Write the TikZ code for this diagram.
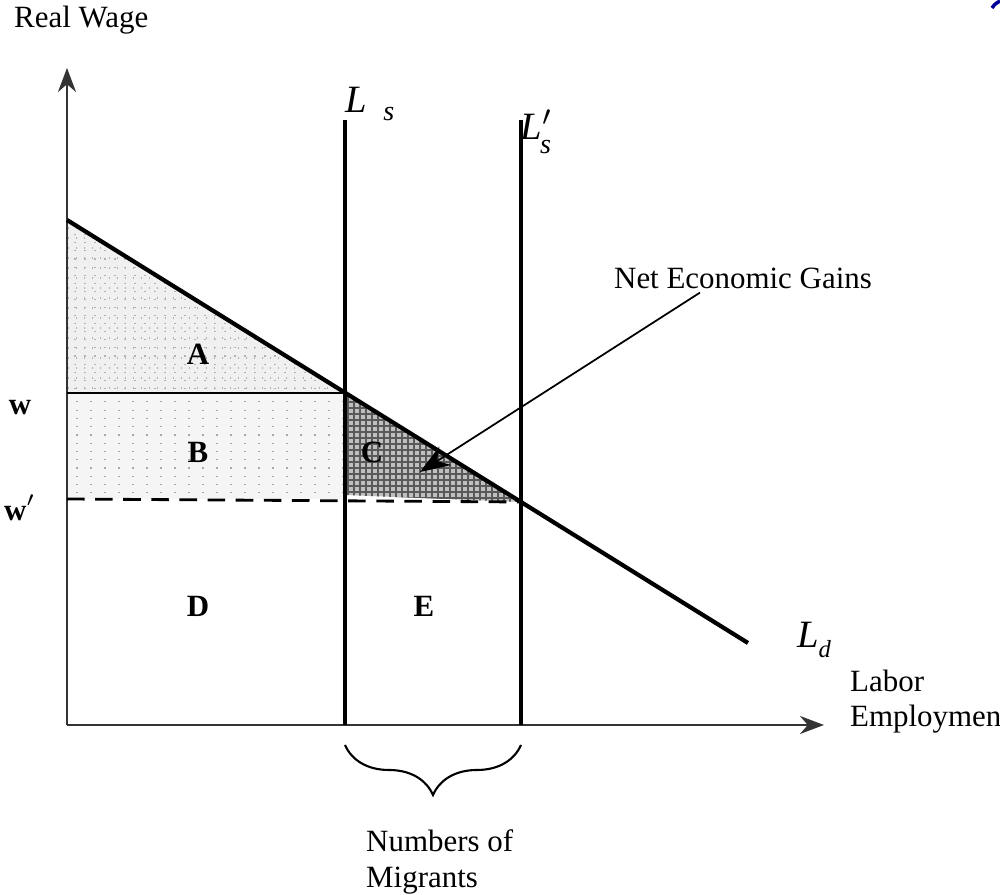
\documentclass[tikz,border=0pt]{standalone}
\usepackage{fontspec}
\setmainfont{Liberation Serif}
\usetikzlibrary{arrows.meta,positioning,decorations.pathreplacing}

\begin{document}
\begin{tikzpicture}[x=0.1mm,y=-0.1mm,
  font=\fontsize{8.8}{10}\selectfont,
  lbl/.style={inner sep=1pt},
  area/.style={inner sep=1pt,font=\fontsize{8.8}{10}\selectfont\bfseries},
  curve/.style={line width=1.2pt},
  supply/.style={line width=0.9pt},
  axis/.style={line width=0.7pt,black!80},
  >={Stealth[length=2.4mm,width=1.8mm]}]
  \useasboundingbox (0,0) rectangle (1000,895);
  % points
  \coordinate (O) at (67,725);
  \coordinate (ytop) at (67,68);
  \coordinate (xend) at (824,725);
  \coordinate (d0) at (67,220);
  \coordinate (d1) at (748,643);
  \coordinate (e1) at (345,393);
  \coordinate (e2) at (521,502);
  \coordinate (w1) at (67,393);
  \coordinate (w2) at (67,499);
  \coordinate (c3) at (345,495);
  % surplus A
  \begin{scope}
    \clip (d0) -- (e1) -- (w1) -- cycle;
    \fill[gray!12] (60,210) rectangle (350,400);
    \foreach \x in {75,85,...,345} \draw[gray!60,dotted,line width=0.3pt] (\x,210) -- (\x,400);
    \foreach \y in {228,238,...,393} \draw[gray!60,dotted,line width=0.3pt] (60,\y) -- (350,\y);
  \end{scope}
  % transfer B
  \begin{scope}
    \clip (w1) rectangle (345,499);
    \fill[gray!8] (w1) rectangle (345,499);
    \foreach \x in {77,91,...,345} \draw[gray!70,dotted,line width=0.35pt] (\x,393) -- (\x,499);
  \end{scope}
  % gain C
  \begin{scope}
    \clip (e1) -- (e2) -- (c3) -- cycle;
    \fill[gray!50] (340,390) rectangle (525,505);
    \foreach \x in {348,354,...,522} \draw[black!65,line width=0.3pt] (\x,390) -- (\x,505);
    \foreach \y in {396,402,...,504} \draw[black!65,line width=0.3pt] (340,\y) -- (525,\y);
  \end{scope}
  % axes
  \draw[axis,->] (O) -- (ytop);
  \draw[axis,->] (O) -- (xend);
  % supply and demand
  \draw[supply] (345,120) -- (345,725);
  \draw[supply] (521,120) -- (521,725);
  \draw[curve] (d0) -- (d1);
  \draw[line width=0.7pt] (w1) -- (e1);
  \draw[line width=0.8pt,dash pattern=on 5pt off 3pt] (w2) -- (e2);
  % labels
  \node[lbl,anchor=west] (rwage) at (10,20) {Real Wage};
  \node[area] (w) at (20,408) {w};
  \node[area] (wp) at (20,508) {w$'$};
  \node[lbl,font=\fontsize{11}{12}\selectfont] (ls) at (370,104) {\textit{L}\hspace{1.6mm}\raisebox{-0.5ex}{\fontsize{8}{9}\selectfont\textit{s}}};
  \node[lbl,font=\fontsize{11}{12}\selectfont] (lsp) at (536,132) {\textit{L}$'$\hspace{-1.2mm}\raisebox{-0.8ex}{\fontsize{8}{9}\selectfont\textit{s}}};
  \node[lbl,font=\fontsize{11}{12}\selectfont] (ld) at (814,640) {\textit{L}\raisebox{-0.6ex}{\fontsize{7}{8}\selectfont\textit{d}}};
  \node[area] (A) at (198,354) {A};
  \node[area] (B) at (198,452) {B};
  \node[area] (C) at (372,452) {C};
  \node[area] (D) at (198,606) {D};
  \node[area] (E) at (424,606) {E};
  \node[lbl] (gains) at (743,278) {Net Economic Gains};
  \coordinate (ctip) at (420,472);
  \draw[-{Stealth[length=3mm,width=2.2mm]},line width=0.5pt] ([xshift=-4.3mm]gains.south) -- (ctip);
  \node[lbl,anchor=west,align=left] (labor) at (846,702) {Labor\\Employmen};
  % migrants
  \coordinate (m0) at (345,745);
  \coordinate (m1) at (521,745);
  \draw[line width=0.6pt,decorate,decoration={brace,mirror,amplitude=5mm}] (m0) -- (m1);
  \node[lbl,anchor=west,align=left] (migr) at (362,862) {Numbers of\\Migrants};
  % corner
  \draw[blue!60!black,line width=1pt] (992,8) .. controls (995,4) .. (1000,1);
\end{tikzpicture}
\end{document}
